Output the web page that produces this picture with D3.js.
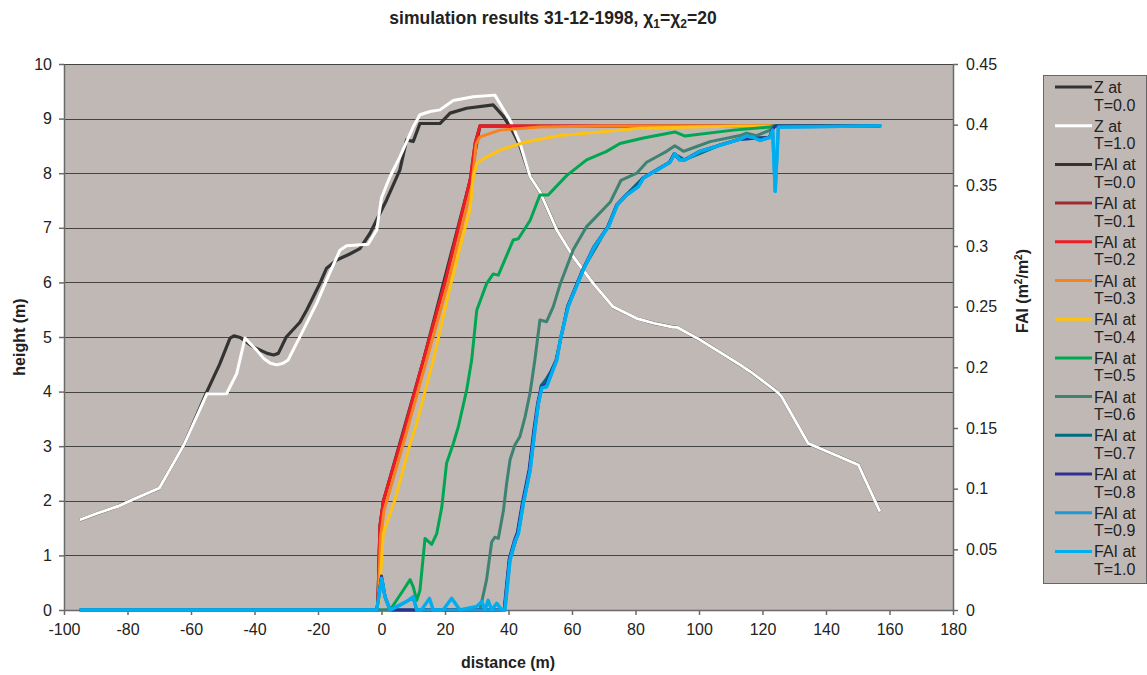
<!DOCTYPE html>
<html>
<head>
<meta charset="utf-8">
<script src="https://cdn.jsdelivr.net/npm/d3@7"></script>
<style>
  body { margin: 0; background: #fff; }
  text { font-family: "Liberation Sans", Arial, sans-serif; fill: #222; }
</style>
</head>
<body>
<div id="chart"></div>
<script>
// distance (m) vs height (m) for the two Z profiles
const zT00 = [[-95,1.65],[-90,1.76],[-83,1.9],[-78,2.03],[-70,2.23],[-62,3.05],[-55,4.0],[-51,4.5],[-47.7,4.98],[-46.5,5.02],[-44.5,4.99],
  [-40.4,4.82],[-36,4.7],[-34,4.67],[-32.5,4.7],[-30,5.0],[-25.7,5.27],[-23.5,5.5],[-19.4,5.98],[-17.3,6.26],[-14.1,6.41],[-10,6.52],
  [-6.8,6.62],[-3.6,6.9],[1.6,7.51],[5.8,8.06],[7.9,8.61],[10,8.58],[12.1,8.91],[15.3,8.91],[18.4,8.91],[21.6,9.1],[26.8,9.19],
  [35.2,9.25],[38.4,9.04],[41.5,8.75],[43.6,8.5],[46.8,7.94],[49.9,7.66],[55.2,6.96],[60.4,6.47],[66.7,5.98],[73,5.55],[80.4,5.34],
  [86,5.25],[91.9,5.18],[93,5.18],[100.3,4.95],[112.9,4.49],[116.1,4.37],[124.5,4.0],[126,3.91],[134.4,3.05],[150.2,2.66],[157,1.8]];
const zT10 = [[-95,1.65],[-90,1.76],[-83,1.9],[-78,2.03],[-70,2.23],[-62,3.05],[-55,3.96],[-48.8,3.96],[-45.6,4.33],[-43,4.98],
  [-39.3,4.76],[-37,4.6],[-35,4.52],[-33,4.49],[-31,4.52],[-29.4,4.58],[-24.6,5.13],[-20.4,5.62],[-17.3,6.04],[-13.1,6.59],[-11,6.67],
  [-4.2,6.7],[-1.5,6.96],[0,7.55],[2.7,7.94],[5.8,8.3],[10,8.85],[12.1,9.07],[15.3,9.13],[18.4,9.16],[22.6,9.33],[28.9,9.4],
  [35.7,9.43],[40.5,8.97],[43.6,8.55],[46.8,7.94],[49.9,7.66],[55.2,6.96],[60.4,6.47],[66.7,5.98],[73,5.55],[80.4,5.34],[86,5.25],
  [91.9,5.18],[93,5.18],[100.3,4.95],[112.9,4.49],[116.1,4.37],[124.5,4.0],[126,3.91],[134.4,3.05],[150.2,2.66],[157,1.8]];

// distance (m) vs FAI (m2/m2)
const faiT00 = [[-95,0],[-1.2,0],[-0.5,0.069],[0.6,0.09],[13.2,0.206],[27.9,0.354],[31,0.399],[40,0.399]];
const faiT01 = [[-95,0],[-1.2,0],[-0.5,0.069],[0.6,0.09],[6.9,0.146],[13.2,0.206],[20,0.27],[27.9,0.354],[29.5,0.385],[31,0.399],[157,0.399]];
const faiT02 = [[-95,0],[-1.2,0],[-0.5,0.069],[0.6,0.09],[6.9,0.146],[13.2,0.206],[20,0.27],[27.9,0.354],[29.5,0.385],[31,0.399],[157,0.399]];
const faiT03 = [[-95,0],[-1.1,0],[-0.3,0.06],[0.8,0.082],[7.5,0.143],[14.2,0.206],[21,0.27],[28.5,0.35],[29.8,0.384],[31,0.39],
  [37.3,0.3955],[49.9,0.398],[70,0.399],[157,0.399]];
const faiT04 = [[-95,0],[-1,0],[0.57,0.063],[4.25,0.091],[9,0.137],[11.1,0.154],[16.3,0.206],[21.6,0.266],[25.8,0.31],[27.9,0.33],
  [28.9,0.357],[30,0.368],[32.1,0.372],[37.3,0.379],[45.7,0.386],[56.2,0.391],[60.4,0.392],[81.4,0.397],[112.9,0.399],[157,0.399]];
const faiT05 = [[-95,0],[2.7,0],[6.9,0.0165],[9,0.025],[10,0.019],[11.1,0.008],[12.1,0.016],[13.7,0.059],[15.8,0.054],[17.4,0.063],
  [19,0.085],[20.5,0.121],[22.6,0.137],[24.2,0.151],[26.8,0.181],[28.4,0.206],[30,0.247],[33.1,0.269],[35.2,0.277],[36.8,0.276],
  [41.5,0.305],[43.1,0.306],[46.8,0.321],[49.9,0.342],[52.5,0.342],[58.3,0.358],[64.6,0.371],[70.9,0.378],[75.1,0.3845],[82.5,0.389],
  [92.4,0.394],[95.6,0.3906],[110.8,0.3955],[122.4,0.398],[123.3,0.399],[157,0.399]];
const faiT06 = [[-95,0],[31,0],[33.1,0.025],[34.7,0.056],[35.7,0.06],[36.8,0.059],[38.4,0.082],[39.4,0.104],[40.5,0.124],[42,0.136],
  [43.6,0.143],[45.2,0.159],[46.8,0.179],[48.3,0.206],[49.9,0.239],[52,0.2376],[54.1,0.25],[56.2,0.268],[60.4,0.297],[64.6,0.316],
  [72,0.336],[75.4,0.354],[80.4,0.36],[83.5,0.369],[87.7,0.375],[89.8,0.378],[92.4,0.3826],[95.1,0.378],[99.3,0.382],[103.5,0.386],
  [112.9,0.391],[115,0.393],[118.1,0.391],[122.4,0.3955],[123.4,0.399],[157,0.399]];
const faiT07 = [[-95,0],[-1.5,0],[0,0.027],[1.1,0.011],[2.7,0],[38.7,0],[40.3,0.041],[42.6,0.06],[44.5,0.088],[46.6,0.115],
  [48.1,0.148],[50.3,0.185],[51.8,0.19],[53.4,0.197],[55,0.206],[58.6,0.25],[63.3,0.28],[71.3,0.316],[74.1,0.334],[77,0.342],
  [82.3,0.356],[90.7,0.369],[92.2,0.376],[95.4,0.371],[106.4,0.383],[112.7,0.388],[122.2,0.3895],[123,0.3955],[124,0.399],[157,0.399]];
const faiT08 = [[-95,0],[-1.5,0],[0,0.028],[1.1,0.011],[2.7,0],[38.6,0],[40.2,0.042],[41.8,0.057],[42.8,0.064],[44.4,0.089],
  [46.5,0.116],[48,0.149],[49.2,0.171],[50.3,0.184],[51.8,0.186],[53.4,0.196],[55,0.206],[58.6,0.25],[63.3,0.28],[66.8,0.299],
  [71.3,0.316],[74.1,0.334],[77,0.342],[80.7,0.349],[82.3,0.356],[87.5,0.364],[90.7,0.369],[92.2,0.376],[93.8,0.371],[95.4,0.371],
  [100.1,0.378],[106.4,0.383],[112.7,0.388],[122.2,0.3895],[123,0.3955],[124,0.399],[157,0.399]];
const faiT09 = [[-95,0],[-1.5,0],[0.06,0.026],[1.1,0.011],[2.7,0],[10,0.01],[11.1,0],[38.8,0],[40.4,0.041],[42,0.056],[43.1,0.063],
  [44.7,0.088],[46.8,0.115],[48.3,0.148],[49.4,0.17],[50.5,0.183],[52,0.184],[53.6,0.195],[55.2,0.206],[56.5,0.225],[58.8,0.25],
  [63.5,0.28],[67,0.299],[71.5,0.316],[74.3,0.334],[77.2,0.342],[80.9,0.349],[82.5,0.356],[87.7,0.364],[90.9,0.369],[92.4,0.376],
  [94,0.371],[95.6,0.371],[100.3,0.378],[106.6,0.383],[112.9,0.388],[115,0.3906],[117.1,0.3895],[119.2,0.387],[122.4,0.3895],
  [123.2,0.3955],[124,0.345],[125,0.398],[157.5,0.399]];
const faiT10 = [[-95,0],[-1.5,0],[0.06,0.026],[1.1,0.011],[2.7,0],[5.8,0.004],[7.9,0.007],[10,0.011],[11.1,0],[12.6,0],[15.1,0.0096],
  [16.3,0],[19.4,0],[22.1,0.0096],[24.7,0],[30,0.003],[31.6,0.007],[32.6,0],[33.6,0.008],[34.7,0],[36.3,0.0055],[37.9,0],[38.9,0],
  [40.5,0.041],[42,0.056],[43.1,0.063],[44.7,0.088],[46.8,0.115],[48.3,0.148],[49.4,0.17],[50.5,0.183],[52,0.184],[53.6,0.195],
  [55.2,0.206],[56.5,0.225],[58.8,0.25],[63.5,0.28],[67,0.299],[71.5,0.316],[74.3,0.334],[77.2,0.342],[80.9,0.349],[82.5,0.356],
  [87.7,0.364],[90.9,0.369],[92.4,0.376],[94,0.371],[95.6,0.371],[100.3,0.378],[106.6,0.383],[112.9,0.388],[115,0.3906],
  [117.1,0.3895],[119.2,0.387],[122.4,0.3895],[123.2,0.3955],[124,0.345],[125,0.398],[157.5,0.399]];

const seriesNames = ["Z at T=0.0", "Z at T=1.0", "FAI at T=0.0", "FAI at T=0.1", "FAI at T=0.2", "FAI at T=0.3", "FAI at T=0.4",
  "FAI at T=0.5", "FAI at T=0.6", "FAI at T=0.7", "FAI at T=0.8", "FAI at T=0.9", "FAI at T=1.0"];
const seriesData = [zT00, zT10, faiT00, faiT01, faiT02, faiT03, faiT04, faiT05, faiT06, faiT07, faiT08, faiT09, faiT10];
const xTicks = [-100, -80, -60, -40, -20, 0, 20, 40, 60, 80, 100, 120, 140, 160, 180];
const heightTicks = [0, 1, 2, 3, 4, 5, 6, 7, 8, 9, 10];
const faiTicks = [0, 0.05, 0.1, 0.15, 0.2, 0.25, 0.3, 0.35, 0.4, 0.45];

const theme = {
  colors: ["#333333", "#ffffff", "#333333", "#9e2a2f", "#ed1c24", "#f7821f", "#ffc20e", "#00a651", "#3d8272",
    "#006c7f", "#2e3192", "#1c9ad6", "#00aeef"],
  widths: [3.2, 3, 3, 3, 3, 3, 3, 3, 3, 3, 3, 3.2, 3.4],
  plotFill: "#c0b8b5",
  grid: "#444",
  axis: "#6a6a6a"
};

const cfg = { width: 1147, height: 675, left: 64, right: 953, top: 64, bottom: 610 };

const svg = d3.select("#chart").append("svg")
  .attr("width", cfg.width)
  .attr("height", cfg.height);

const x = d3.scaleLinear().domain([-100, 180]).range([cfg.left, cfg.right]);
const yH = d3.scaleLinear().domain([0, 10]).range([cfg.bottom, cfg.top]);
const yF = d3.scaleLinear().domain([0, 0.45]).range([cfg.bottom, cfg.top]);

// plot background
svg.append("rect")
  .attr("x", cfg.left).attr("y", cfg.top)
  .attr("width", cfg.right - cfg.left).attr("height", cfg.bottom - cfg.top)
  .style("fill", theme.plotFill);

// horizontal gridlines (height axis)
svg.append("g")
  .selectAll("line")
  .data(heightTicks.slice(1))
  .enter()
  .append("line")
  .attr("x1", cfg.left).attr("x2", cfg.right)
  .attr("y1", (d) => Math.round(yH(d)) + 0.5)
  .attr("y2", (d) => Math.round(yH(d)) + 0.5)
  .style("stroke", theme.grid)
  .style("stroke-width", 1);

const styleAxis = (g) => {
  g.attr("font-size", 16).attr("font-family", '"Liberation Sans", Arial, sans-serif');
  g.selectAll("path, line").style("stroke", theme.axis).style("stroke-width", 1.5);
  g.selectAll("text").style("fill", "#222");
};

// plain hyphen for negatives, like the original
const plainFormat = (d) => String(+d.toFixed(2));

// axes
svg.append("g")
  .attr("transform", `translate(0, ${cfg.bottom})`)
  .call(d3.axisBottom(x).tickValues(xTicks).tickSize(5).tickSizeOuter(0).tickPadding(9).tickFormat(plainFormat))
  .call(styleAxis);

svg.append("g")
  .attr("transform", `translate(${cfg.left}, 0)`)
  .call(d3.axisLeft(yH).tickValues(heightTicks).tickSize(5).tickSizeOuter(0).tickPadding(7).tickFormat(plainFormat))
  .call(styleAxis);

svg.append("g")
  .attr("transform", `translate(${cfg.right}, 0)`)
  .call(d3.axisRight(yF).tickValues(faiTicks).tickSize(5).tickSizeOuter(0).tickPadding(8).tickFormat(plainFormat))
  .call(styleAxis);

// series: Z lines on the height axis, FAI lines on the secondary axis
const lineH = d3.line().x((d) => x(d[0])).y((d) => yH(d[1]));
const lineF = d3.line().x((d) => x(d[0])).y((d) => yF(d[1]));

svg.append("g")
  .selectAll("path")
  .data(seriesData)
  .enter()
  .append("path")
  .attr("d", (d, i) => (i < 2 ? lineH(d) : lineF(d)))
  .style("fill", "none")
  .style("stroke", (d, i) => theme.colors[i])
  .style("stroke-width", (d, i) => theme.widths[i])
  .style("stroke-linejoin", "round");

// titles
svg.append("text")
  .attr("x", 553).attr("y", 24)
  .attr("text-anchor", "middle")
  .style("font-size", "17.5px").style("font-weight", "bold")
  .call((t) => {
    t.append("tspan").text("simulation results 31-12-1998, \u03c7");
    t.append("tspan").attr("dy", 4).style("font-size", "12px").text("1");
    t.append("tspan").attr("dy", -4).text("=\u03c7");
    t.append("tspan").attr("dy", 4).style("font-size", "12px").text("2");
    t.append("tspan").attr("dy", -4).text("=20");
  });

svg.append("text")
  .attr("x", 508).attr("y", 668)
  .attr("text-anchor", "middle")
  .style("font-size", "16px").style("font-weight", "bold")
  .text("distance (m)");

svg.append("text")
  .attr("transform", "translate(25, 337) rotate(-90)")
  .attr("text-anchor", "middle")
  .style("font-size", "16px").style("font-weight", "bold")
  .text("height (m)");

svg.append("text")
  .attr("transform", "translate(1028, 291) rotate(-90)")
  .attr("text-anchor", "middle")
  .style("font-size", "16px").style("font-weight", "bold")
  .call((t) => {
    t.append("tspan").text("FAI (m");
    t.append("tspan").attr("dy", -6).style("font-size", "10px").text("2");
    t.append("tspan").attr("dy", 6).text("/m");
    t.append("tspan").attr("dy", -6).style("font-size", "10px").text("2");
    t.append("tspan").attr("dy", 6).text(")");
  });

// legend
const legend = { x: 1043, y: 75, w: 104, h: 508, firstY: 87, step: 38.7, lineGap: 17.5 };

svg.append("rect")
  .attr("x", legend.x + 0.5).attr("y", legend.y + 0.5)
  .attr("width", legend.w - 1).attr("height", legend.h)
  .style("fill", theme.plotFill)
  .style("stroke", "#666")
  .style("stroke-width", 1);

const items = svg.append("g")
  .selectAll("g")
  .data(seriesNames)
  .enter()
  .append("g")
  .attr("transform", (d, i) => `translate(0, ${legend.firstY + i * legend.step})`);

items.append("line")
  .attr("x1", 1055).attr("x2", 1092)
  .attr("y1", 0).attr("y2", 0)
  .style("stroke", (d, i) => theme.colors[i])
  .style("stroke-width", 3);

items.append("text")
  .attr("x", 1094).attr("y", 6)
  .style("font-size", "16px")
  .text((d) => d.split(" T=")[0]);

items.append("text")
  .attr("x", 1094).attr("y", 6 + legend.lineGap)
  .style("font-size", "16px")
  .text((d) => "T=" + d.split(" T=")[1]);
</script>
</body>
</html>
